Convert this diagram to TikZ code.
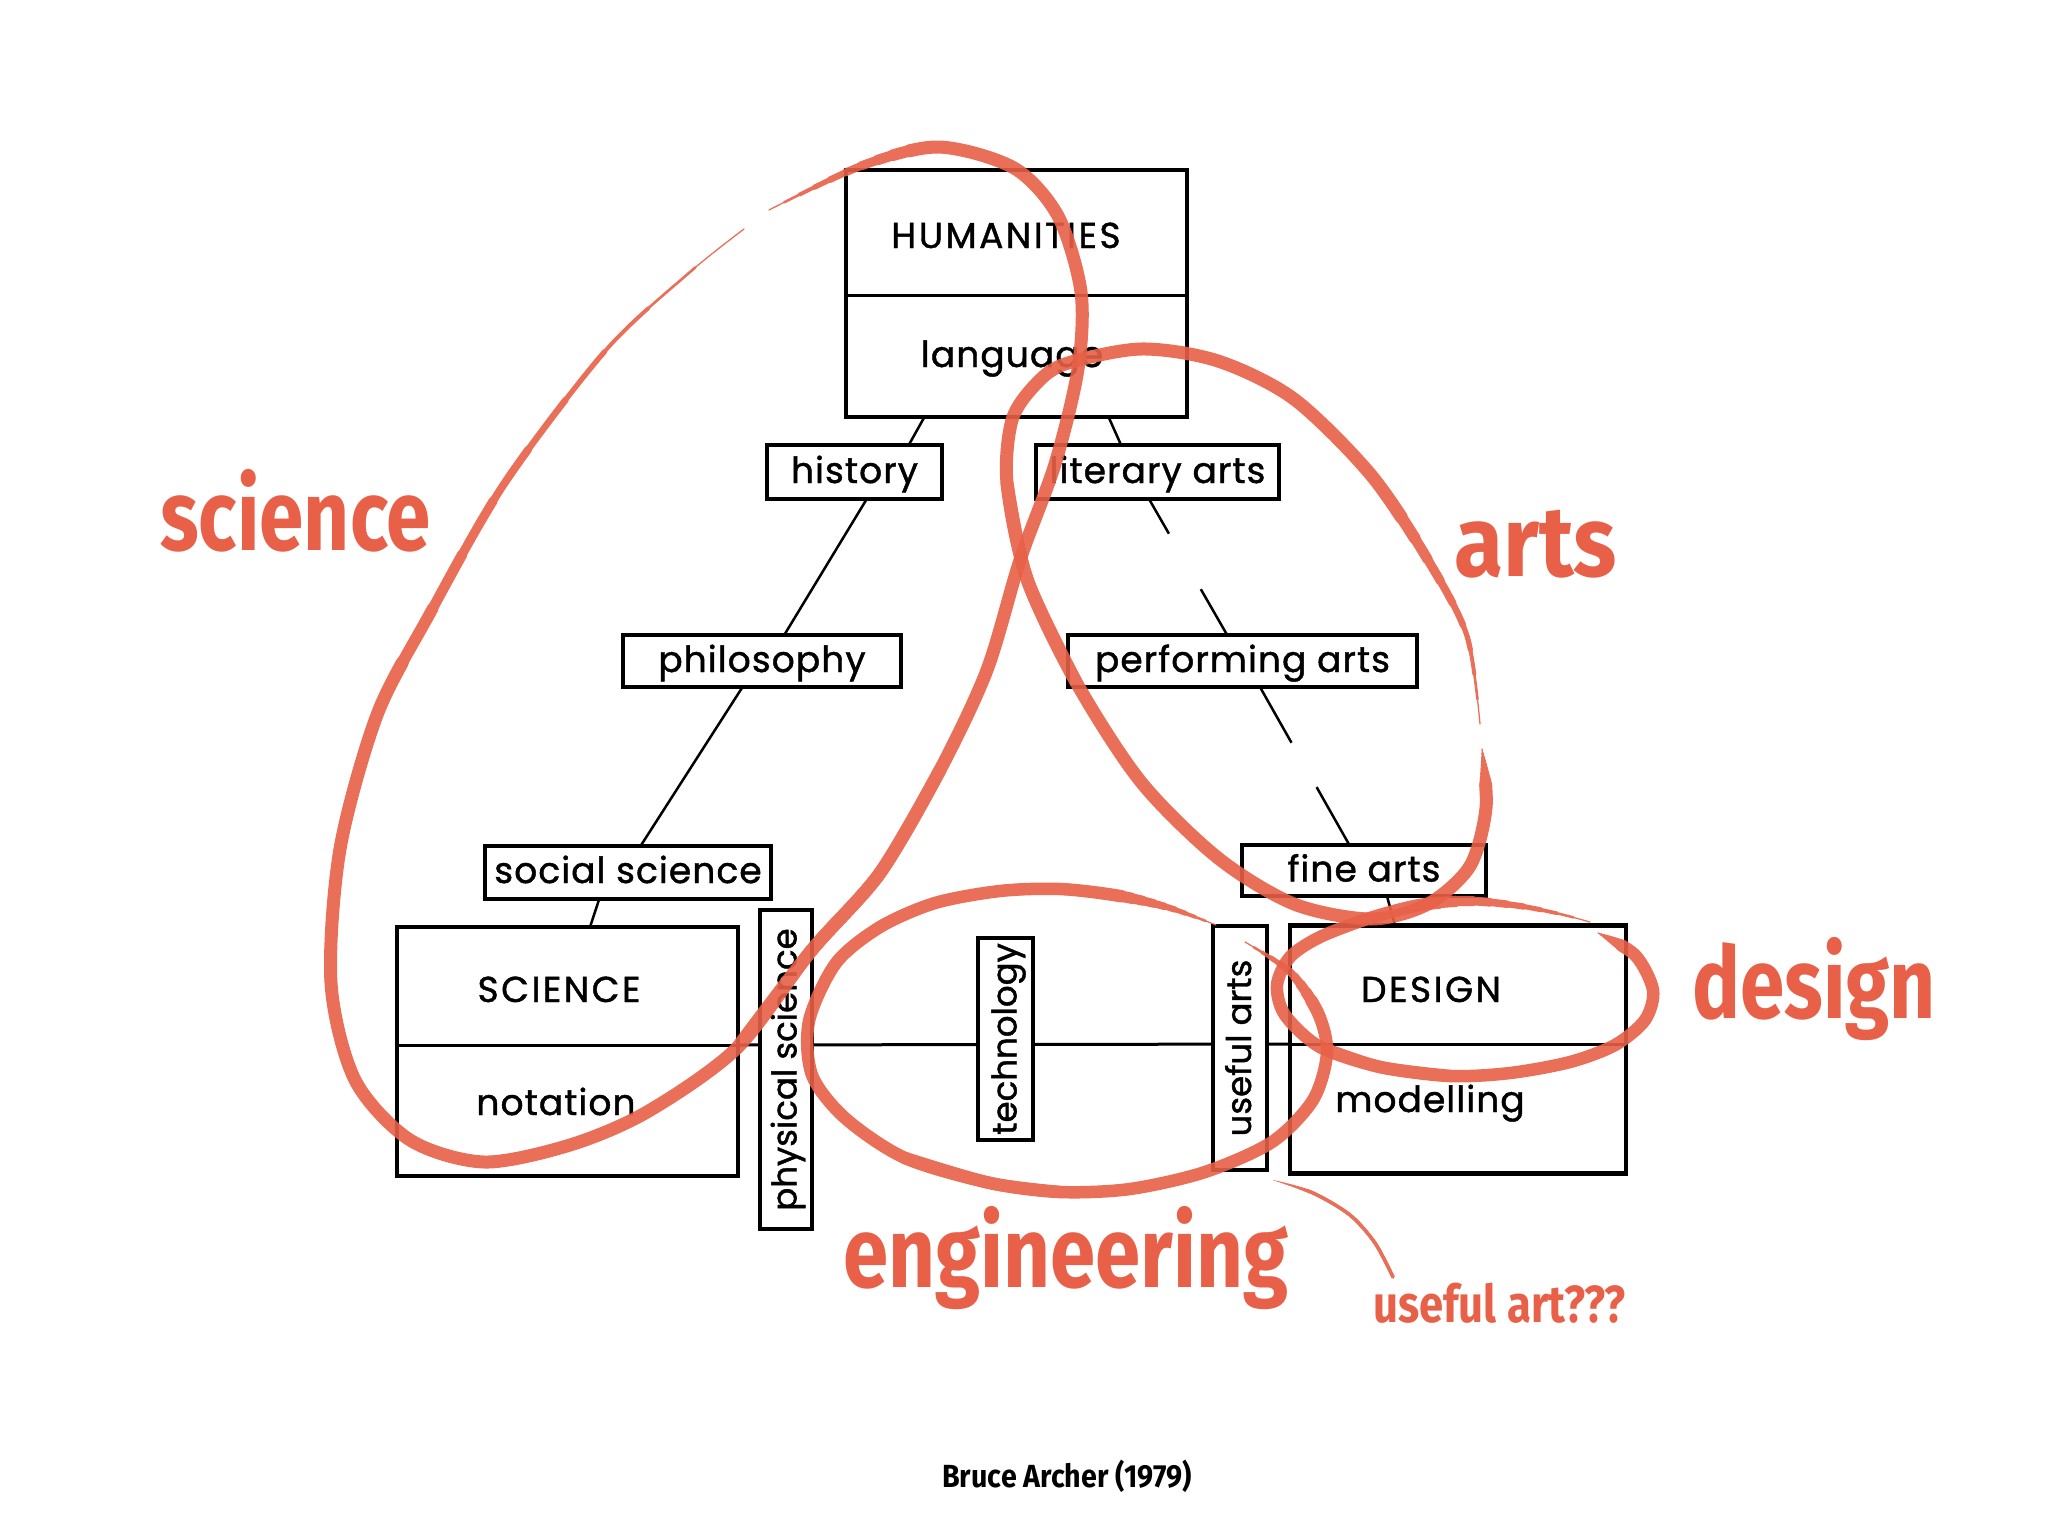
\documentclass[tikz,border=0pt]{standalone}
\usepackage{fontspec}
\newfontfamily\diag[FakeBold=1.2, LetterSpace=3]{Poppins}
\newfontfamily\diagcaps[FakeBold=1.2, LetterSpace=7]{Poppins}
\newfontfamily\diagv[FakeBold=1.2]{Poppins}
\newfontfamily\hand[FakeStretch=0.8]{Fira Sans}
\usetikzlibrary{calc}
\definecolor{rd}{RGB}{232,96,72}
\tikzset{
  bigbox/.style={draw=black, line width=4.2pt, fill=white, inner sep=0pt, outer sep=0pt},
  lbox/.style={draw=black, line width=4pt, fill=white, inner sep=0pt, outer sep=0pt,
    font=\diag\fontsize{36}{38}\selectfont, text height=22pt, text depth=0pt},
  vbox/.style={lbox, rotate=90, font=\diagv\fontsize{34}{36}\selectfont},
  btext/.style={inner sep=0pt, font=\diag\fontsize{36}{38}\selectfont, text height=22pt, text depth=0pt},
  ctext/.style={inner sep=0pt, font=\diagcaps\fontsize{36}{38}\selectfont, text height=22pt, text depth=0pt},
  conn/.style={line width=2.5pt, black},
  divl/.style={line width=3pt, black},
  redline/.style={draw=rd, line cap=round, line join=round},
  redlabel/.style={text=rd, font=\hand\bfseries\fontsize{100}{110}\selectfont, inner sep=0pt, anchor=base west},
}
% tapered red stroke: #1 taper length, #2 full width, #3 coordinates (taper at the first point)
\newcommand\redtaper[3]{%
  \foreach \i in {1,...,10}{%
    \pgfmathsetmacro\lw{#2*\i/10}%
    \pgfmathsetmacro\off{#1*(\i-1)/10+0.01}%
    \draw[redline, line width=\lw pt, dash pattern=on 5000pt off \off pt, dash phase=5000pt]
      plot[smooth] coordinates {#3};
  }}
\begin{document}
\begin{tikzpicture}[x=1pt,y=-1pt]
\fill[white] (0,0) rectangle (2048,1536);
\useasboundingbox (0,0) rectangle (2048,1536);

\node[bigbox, minimum width=341pt, minimum height=249pt] (sci) at (567.5,1051.5) {};
\node[bigbox, minimum width=336pt, minimum height=248pt] (des) at (1458,1049.5) {};
\draw[divl] ([yshift=6.5pt]sci.east) -- ([yshift=5.5pt]des.west);
\draw[divl] ([yshift=6.5pt]sci.west) -- ([yshift=6.5pt]sci.east);
\draw[divl] ([yshift=5.5pt]des.west) -- ([yshift=5.5pt]des.east);

\node[bigbox, minimum width=341pt, minimum height=247pt] (hum) at (1016.5,293.5) {};
\draw[divl] ([yshift=-1.5pt]hum.west) -- ([yshift=-1.5pt]hum.east);

\node[ctext] (humt) at (1006,237) {HUMANITIES};
\node[btext] (lang) at (1012,356) {language};
\node[ctext] (scit) at (559,991) {SCIENCE};
\node[btext] (nota) at (556,1104) {notation};
\node[ctext] (dest) at (1431,991) {DESIGN};
\node[btext] (mode) at (1430,1101) {modelling};

\node[lbox, minimum width=175pt, minimum height=54pt] (hist) at (854.5,472) {history};
\node[lbox, minimum width=243pt, minimum height=54pt] (lit) at (1157.5,472) {literary arts};
\node[lbox, minimum width=278pt, minimum height=52pt] (phil) at (762,661) {philosophy};
\node[lbox, minimum width=349pt, minimum height=52pt] (perf) at (1242.5,661) {performing arts};
\node[lbox, minimum width=286pt, minimum height=53pt] (soc) at (628,872) {social science};
\node[lbox, minimum width=244pt, minimum height=51pt] (fine) at (1364,870.5) {fine arts};

\node[vbox, minimum width=319pt, minimum height=52pt] (phys) at (785.5,1069.5) {physical science};
\node[vbox, minimum width=202pt, minimum height=55pt] (tech) at (1005.5,1039) {technology};
\node[vbox, minimum width=244pt, minimum height=54pt] (use) at (1240,1048) {useful arts};

% connectors
\draw[conn] ($(hum.south west)!0.23!(hum.south east)$) -- ($(hist.north west)!0.81!(hist.north east)$);
\draw[conn] ($(hum.south west)!0.77!(hum.south east)$) -- ($(lit.north west)!0.35!(lit.north east)$);
\draw[conn] ($(hist.south west)!0.57!(hist.south east)$) -- ($(phil.north west)!0.58!(phil.north east)$);
\draw[conn] ($(phil.south west)!0.43!(phil.south east)$) -- ($(soc.north west)!0.545!(soc.north east)$);
\draw[conn] ($(soc.south west)!0.40!(soc.south east)$) -- ($(sci.north west)!0.566!(sci.north east)$);
\draw[conn, dash pattern=on 40pt off 64pt on 300pt] ($(lit.south west)!0.465!(lit.south east)$) -- ($(perf.north west)!0.456!(perf.north east)$);
\draw[conn, dash pattern=on 64pt off 51pt on 300pt] ($(perf.south west)!0.55!(perf.south east)$) -- ($(fine.north west)!0.44!(fine.north east)$);
\draw[conn] ($(fine.south west)!0.594!(fine.south east)$) -- ($(des.north west)!0.3125!(des.north east)$);

% ---------- red annotations ----------
% science loop
\begin{scope}[transparency group, opacity=0.9]
\redtaper{620}{13}{(744,229) (690,272) (606,350) (504,484) (428,617) (377,715) (340,849) (331,983) (355,1080) (410,1140) (484,1162) (570,1145) (647,1112) (737,1048) (811,951) (880,873) (940,770)}
\redtaper{170}{13}{(769,210) (861,166) (938,147) (1014,168) (1058,216) (1081,292) (1078,369) (1055,464) (1020,560) (987,670) (940,770) (880,873) (811,951) (737,1048)}
\end{scope}

% arts loop
\begin{scope}[transparency group, opacity=0.9]
\redtaper{250}{13}{(1480,724) (1467,636) (1428,560) (1371,475) (1294,399) (1218,361) (1141,349) (1065,364) (1035,385) (1012,420) (1007,483) (1027,579) (1076,682)}
\redtaper{40}{13}{(1482,749) (1486,808) (1470,866) (1428,904) (1371,919) (1294,904) (1218,858) (1141,782) (1076,682) (1027,579) (1007,483)}
\end{scope}

% engineering loop
\begin{scope}[transparency group, opacity=0.9]
\redtaper{100}{12.5}{(1245,942) (1290,972) (1318,1013) (1327,1053) (1313,1100) (1272,1142) (1205,1172) (1130,1189) (1060,1192) (990,1183) (905,1158)}
\redtaper{110}{12.5}{(1216,925) (1170,908) (1120,896) (1060,889) (1000,891) (935,903) (880,927) (836,963) (809,1021) (812,1075) (845,1118) (905,1158) (990,1183) (1060,1192)}
\end{scope}

% design loop
\begin{scope}[transparency group, opacity=0.9]
\redtaper{30}{12.5}{(1598,933) (1635,955) (1653,990) (1645,1020) (1615,1045) (1570,1062) (1510,1073) (1450,1076) (1380,1067) (1320,1047)}
\redtaper{170}{12.5}{(1590,922) (1560,914) (1520,906) (1470,901) (1420,905) (1370,918) (1320,937) (1290,957) (1277,985) (1285,1015) (1320,1047) (1380,1067) (1450,1076)}
\end{scope}

% useful art pointer
\begin{scope}[transparency group, opacity=0.9]
\redtaper{40}{3.5}{(1273,1180) (1313,1193) (1350,1215) (1375,1243) (1393,1277)}
\end{scope}

% red labels
\node[redlabel] (lsci) at (160,550) {science};
\node[redlabel] (lart) at (1454,576) {\scalebox{1.12}[1]{arts}};
\node[redlabel] (ldes) at (1692,1018) {design};
\node[redlabel] (leng) at (843,1287) {\scalebox{1.02}[1]{engineering}};
\node[redlabel, font=\hand\bfseries\fontsize{52}{56}\selectfont] (luse) at (1373,1322) {\scalebox{1.05}[1]{useful art???}};

\node[inner sep=0pt, anchor=base, font=\hand\bfseries\fontsize{32}{34}\selectfont] (cite) at (1067,1487) {\scalebox{1.12}[1]{Bruce Archer (1979)}};
\end{tikzpicture}
\end{document}
